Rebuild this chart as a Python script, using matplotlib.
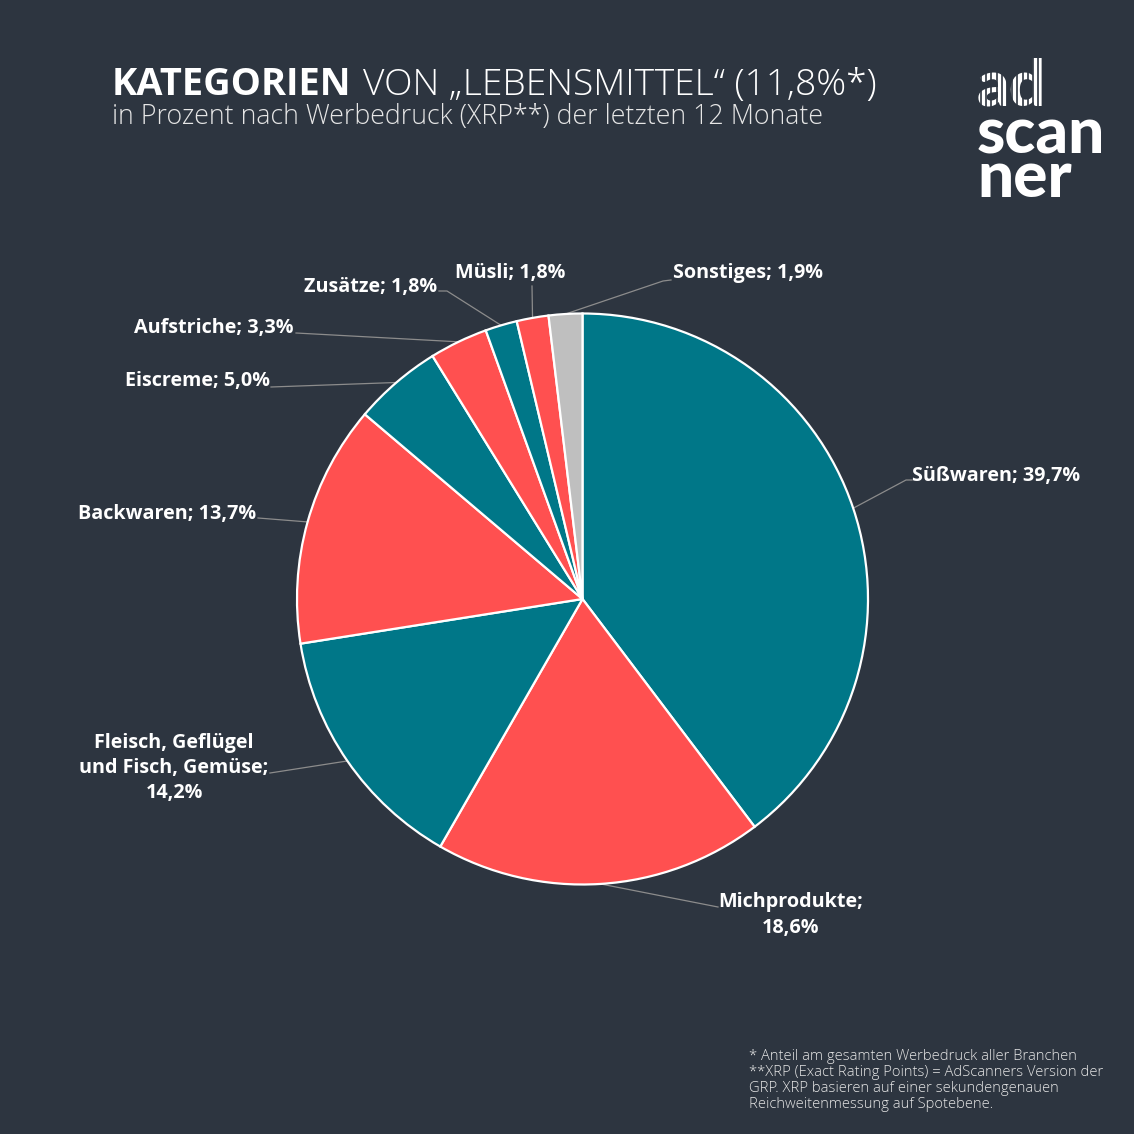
import numpy as np
import matplotlib
matplotlib.use("Agg")
import matplotlib.pyplot as plt

BG = "#2d3540"
TEAL = "#007788"
RED = "#ff5050"
GREY = "#bfbfbf"
W = 1134

# clockwise from twelve o'clock
values = [39.7, 18.6, 14.2, 13.7, 5.0, 3.3, 1.8, 1.8, 1.9]
labels = ["Süßwaren; 39,7%", "Michprodukte;\n18,6%", "Fleisch, Geflügel\nund Fisch, Gemüse;\n14,2%",
          "Backwaren; 13,7%", "Eiscreme; 5,0%", "Aufstriche; 3,3%", "Zusätze; 1,8%", "Müsli; 1,8%",
          "Sonstiges; 1,9%"]
colors = [TEAL, RED, TEAL, RED, TEAL, RED, TEAL, RED, GREY]

# label anchor in px, alignment, end of the leader line at the label
label_pos = [(912, 476, "left"), (791, 915, "center"), (174, 768, "center"), (256, 514, "right"),
             (270, 381, "right"), (294, 328, "right"), (437, 287, "right"), (510, 273, "center"),
             (673, 273, "left")]
leader_end = [(912, 480), (718, 907), (270, 773), (258, 518), (271, 387), (296, 333), (439, 291),
              (532, 286), (671, 280)]
leader_knee = [(906, 480), None, None, None, None, None, (447, 291), None, (663, 281)]

fig = plt.figure(figsize=(W / 100, W / 100), dpi=100, facecolor=BG)
ax = fig.add_axes([0, 0, 1, 1])


def py(y):
    return W - y


cx, cy, r = 582.5, py(599), 285.5
wedges, _ = ax.pie(values, colors=colors, startangle=90, counterclock=False, center=(cx, cy), radius=r,
                   wedgeprops=dict(edgecolor="white", linewidth=1.6), frame=True)
ax.set_xlim(0, W)
ax.set_ylim(0, W)
ax.set_aspect("equal")
ax.axis("off")

for w, lab, (lx, ly, ha), end, knee in zip(wedges, labels, label_pos, leader_end, leader_knee):
    mid = np.deg2rad((w.theta1 + w.theta2) / 2)
    xs = [cx + r * np.cos(mid)]
    ys = [cy + r * np.sin(mid)]
    if knee:
        xs.append(knee[0])
        ys.append(py(knee[1]))
    xs.append(end[0])
    ys.append(py(end[1]))
    ax.plot(xs, ys, color="#8c8c8c", lw=0.9, zorder=0.5)
    ax.text(lx, py(ly), lab, ha=ha, va="center", multialignment="center", color="white",
            family="Open Sans", weight="bold", fontsize=14.2, linespacing=1.36)

ax.text(112, py(95), "KATEGORIEN", family="Open Sans", weight="bold", fontsize=27.4, color="white", ha="left", va="baseline")
ax.text(363, py(95), "VON „LEBENSMITTEL“ (11,8%*)", family="Open Sans", weight="light", fontsize=26.7, color="white", ha="left", va="baseline")
ax.text(112, py(124), "in Prozent nach Werbedruck (XRP**) der letzten 12 Monate", family="Open Sans", weight="light",
        fontsize=19.3, color="#e6e6e6", ha="left", va="baseline")

notes = ["* Anteil am gesamten Werbedruck aller Branchen", "**XRP (Exact Rating Points) = AdScanners Version der",
         "GRP. XRP basieren auf einer sekundengenauen", "Reichweitenmessung auf Spotebene."]
for i, line in enumerate(notes):
    ax.text(749, py(1060 + i * 16), line, family="Open Sans", weight="light", fontsize=10.6, color="#e6e6e6", ha="left", va="baseline")

# logo
ax.text(977, py(106), "ad", family="Lato", weight="black", fontsize=46, color="white", ha="left", va="baseline")
for x in np.arange(981, 1046, 5.2):
    ax.plot([x, x], [py(56), py(108)], color=BG, lw=1.2, zorder=5)
ax.text(977, py(153), "scan", family="Lato", weight="black", fontsize=46, color="white", ha="left", va="baseline")
ax.text(977, py(197), "ner", family="Lato", weight="black", fontsize=46, color="white", ha="left", va="baseline")

fig.savefig("out.png", dpi=100, facecolor=BG)
